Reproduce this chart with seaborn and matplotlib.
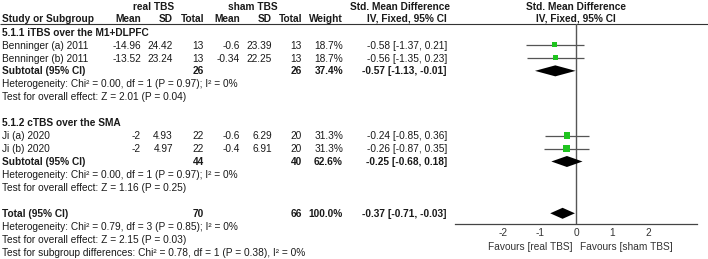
import numpy as np
import matplotlib
matplotlib.use("Agg")
import matplotlib.pyplot as plt
import seaborn as sns
import pandas as pd

# ---- data ----
group_names = ["5.1.1 iTBS over the M1+DLPFC", "5.1.2 cTBS over the SMA"]
study_group = [0, 0, 1, 1]
studies = ["Benninger (a) 2011", "Benninger (b) 2011", "Ji (a) 2020", "Ji (b) 2020"]
real_mean = [-14.96, -13.52, -2, -2]
real_sd = [24.42, 23.24, 4.93, 4.97]
real_n = [13, 13, 22, 22]
sham_mean = [-0.6, -0.34, -0.6, -0.4]
sham_sd = [23.39, 22.25, 6.29, 6.91]
sham_n = [13, 13, 20, 20]
weight = [18.7, 18.7, 31.3, 31.3]
smd = [-0.58, -0.56, -0.24, -0.26]
smd_lo = [-1.37, -1.35, -0.85, -0.87]
smd_hi = [0.21, 0.23, 0.36, 0.35]

sub_real_n = [26, 44]
sub_sham_n = [26, 40]
sub_weight = [37.4, 62.6]
sub_smd = [-0.57, -0.25]
sub_lo = [-1.13, -0.68]
sub_hi = [-0.01, 0.18]
sub_het = ["Heterogeneity: Chi\u00b2 = 0.00, df = 1 (P = 0.97); I\u00b2 = 0%",
           "Heterogeneity: Chi\u00b2 = 0.00, df = 1 (P = 0.97); I\u00b2 = 0%"]
sub_test = ["Test for overall effect: Z = 2.01 (P = 0.04)",
            "Test for overall effect: Z = 1.16 (P = 0.25)"]

tot_real_n, tot_sham_n, tot_weight = 70, 66, 100.0
tot_smd, tot_lo, tot_hi = -0.37, -0.71, -0.03
tot_het = "Heterogeneity: Chi\u00b2 = 0.79, df = 3 (P = 0.85); I\u00b2 = 0%"
tot_test = "Test for overall effect: Z = 2.15 (P = 0.03)"
subgroup_test = "Test for subgroup differences: Chi\u00b2 = 0.78, df = 1 (P = 0.38), I\u00b2 = 0%"

xticks = [-2, -1, 0, 1, 2]
fav_left, fav_right = "Favours [real TBS]", "Favours [sham TBS]"

# ---- style ----
sns.set_style("white")
plt.rcParams["font.family"] = ["Liberation Sans", "DejaVu Sans"]
plt.rcParams["axes.unicode_minus"] = False
FS = 7.3
TXT = "#1a1a1a"
GREEN = "#1fc41f"

W, H = 708, 259
fig = plt.figure(figsize=(W / 100, H / 100), dpi=100)
tax = fig.add_axes([0, 0, 1, 1])
tax.set_xlim(0, W)
tax.set_ylim(H, 0)
tax.axis("off")

# forest panel: x axis line at y=224 px, header line at y=24 px
AX_L, AX_R, AX_B, AX_T = 455, 697, 224, 24
fax = fig.add_axes([AX_L / W, (H - AX_B) / H, (AX_R - AX_L) / W, (AX_B - AX_T) / H])
fax.patch.set_alpha(0)
fax.set_xlim(-3.333, 3.333)
fax.set_ylim(AX_B, AX_T)

# column right edges (px)
COL = dict(m1=141, s1=173, n1=204, m2=240, s2=272, n2=302, w=343, ci=447)


def t(x, y, s, ha="right", bold=False, color=TXT):
    tax.text(x, y + 3.6, s, ha=ha, va="baseline", fontsize=FS, color=color,
             fontweight="bold" if bold else "normal")


# header
t(154, 6.5, "real TBS", ha="center", bold=True)
t(253, 6.5, "sham TBS", ha="center", bold=True)
t(450, 6.5, "Std. Mean Difference", bold=True)
t(576, 6.5, "Std. Mean Difference", ha="center", bold=True)
t(2, 18, "Study or Subgroup", ha="left", bold=True)
for key, lab in [("m1", "Mean"), ("s1", "SD"), ("n1", "Total"), ("m2", "Mean"),
                 ("s2", "SD"), ("n2", "Total"), ("w", "Weight"), ("ci", "IV, Fixed, 95% CI")]:
    t(COL[key], 18, lab, bold=True)
t(576, 18, "IV, Fixed, 95% CI", ha="center", bold=True)
tax.hlines(24, 0, W, color="#333333", lw=0.8)

Y0, STEP = 32, 12.95
ci_fmt = "{:.2f} [{:.2f}, {:.2f}]"

r = 0
study_y = [0.0] * len(studies)
sum_y = []
for g, gname in enumerate(group_names):
    t(2, Y0 + r * STEP, gname, ha="left", bold=True)
    r += 1
    for i in [k for k, sg in enumerate(study_group) if sg == g]:
        y = Y0 + r * STEP
        study_y[i] = y
        t(2, y, studies[i], ha="left")
        t(COL["m1"], y, f"{real_mean[i]:g}")
        t(COL["s1"], y, f"{real_sd[i]:g}")
        t(COL["n1"], y, f"{real_n[i]}")
        t(COL["m2"], y, f"{sham_mean[i]:g}")
        t(COL["s2"], y, f"{sham_sd[i]:g}")
        t(COL["n2"], y, f"{sham_n[i]}")
        t(COL["w"], y, f"{weight[i]:.1f}%")
        t(COL["ci"], y, ci_fmt.format(smd[i], smd_lo[i], smd_hi[i]))
        r += 1
    y = Y0 + r * STEP
    sum_y.append(y)
    t(2, y, "Subtotal (95% CI)", ha="left", bold=True)
    t(COL["n1"], y, f"{sub_real_n[g]}", bold=True)
    t(COL["n2"], y, f"{sub_sham_n[g]}", bold=True)
    t(COL["w"], y, f"{sub_weight[g]:.1f}%", bold=True)
    t(COL["ci"], y, ci_fmt.format(sub_smd[g], sub_lo[g], sub_hi[g]), bold=True)
    r += 1
    t(2, Y0 + r * STEP, sub_het[g], ha="left")
    r += 1
    t(2, Y0 + r * STEP, sub_test[g], ha="left")
    r += 2

y = Y0 + r * STEP
tot_y = y
t(2, y, "Total (95% CI)", ha="left", bold=True)
t(COL["n1"], y, f"{tot_real_n}", bold=True)
t(COL["n2"], y, f"{tot_sham_n}", bold=True)
t(COL["w"], y, f"{tot_weight:.1f}%", bold=True)
t(COL["ci"], y, ci_fmt.format(tot_smd, tot_lo, tot_hi), bold=True)
for k, s in enumerate([tot_het, tot_test, subgroup_test]):
    t(2, Y0 + (r + 1 + k) * STEP, s, ha="left")

# ---- forest panel ----
fax.axvline(0, color="#555555", lw=1.0, zorder=1)
df = pd.DataFrame({"smd": smd, "lo": smd_lo, "hi": smd_hi, "w": weight, "y": study_y})
fax.hlines(df["y"], df["lo"], df["hi"], color="#555555", lw=0.9, zorder=2)
sns.scatterplot(data=df, x="smd", y="y", size="w", sizes=(13, 21), marker="s",
                color=GREEN, linewidth=0, legend=False, ax=fax, zorder=3)

HALF = 5.5
for est, lo, hi, yy in zip(sub_smd + [tot_smd], sub_lo + [tot_lo], sub_hi + [tot_hi], sum_y + [tot_y]):
    fax.fill([lo, est, hi, est], [yy, yy - HALF, yy, yy + HALF], color="black", lw=0, zorder=4)

for sp in ["top", "left", "right"]:
    fax.spines[sp].set_visible(False)
fax.spines["bottom"].set_color("#444444")
fax.spines["bottom"].set_linewidth(0.9)
fax.set_yticks([])
fax.set_xticks(xticks)
fax.set_xticklabels([str(v) for v in xticks])
fax.tick_params(axis="x", direction="in", length=4.5, width=0.8, color="#444444",
                labelsize=FS, labelcolor="#333333", pad=3)
fax.set_xlabel("")
fax.set_ylabel("")

t(572, 246, fav_left, color="#333333")
t(580, 246, fav_right, ha="left", color="#333333")

fig.savefig("out.png", dpi=100)
